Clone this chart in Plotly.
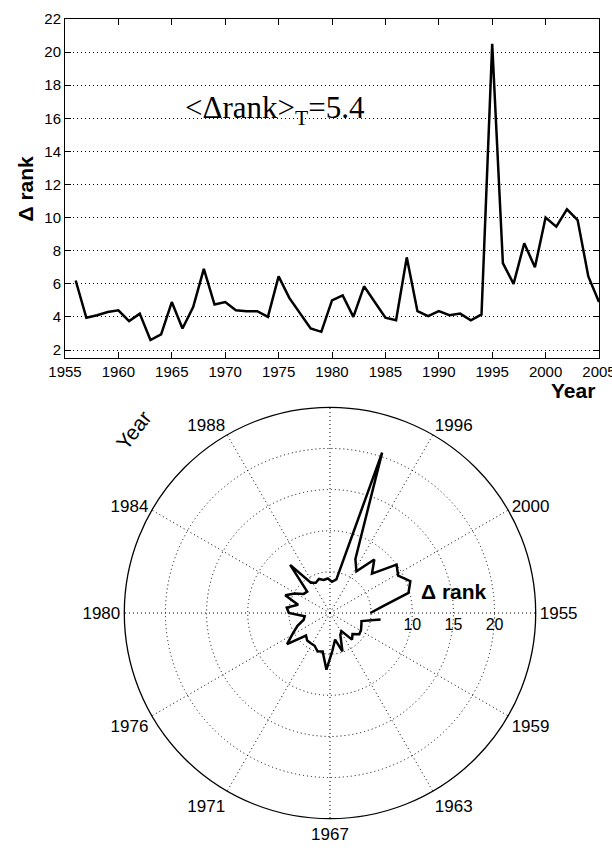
import plotly.graph_objects as go

# ---- data ----
years = list(range(1956, 2006))
delta_rank = [6.2, 3.95, 4.1, 4.3, 4.4, 3.75, 4.2, 2.6, 2.95, 4.9,
              3.3, 4.6, 6.9, 4.75, 4.9, 4.4, 4.35, 4.35, 4.0, 6.45,
              5.15, 4.25, 3.3, 3.1, 5.0, 5.3, 4.0, 5.85, 4.9, 3.95,
              3.8, 7.6, 4.35, 4.05, 4.35, 4.1, 4.2, 3.8, 4.15, 20.5,
              7.25, 6.0, 8.45, 7.0, 10.0, 9.45, 10.5, 9.85, 6.45, 4.9]
x_ticks = list(range(1955, 2006, 5))
y_ticks = list(range(2, 23, 2))
polar_tick_deg = list(range(0, 360, 30))
polar_tick_text = ['1955', '1959', '1963', '1967', '1971', '1976',
                   '1980', '1984', '1988', '', '1996', '2000']
radial_ticks = [5, 10, 15, 20]
radial_text = ['', '10', '15', '20']
year_start, year_span = 1955, 50
mean_text = '&lt;Δrank&gt;<sub>T</sub>=5.4'

theta = [(y - year_start) * 360.0 / year_span for y in years]

W, H = 612, 850
SANS = 'Liberation Sans, Arial, Helvetica, sans-serif'
SERIF = 'Liberation Serif, Times New Roman, serif'
DOTS = '1px,3px'

fig = go.Figure()
fig.add_trace(go.Scatter(x=years, y=delta_rank, mode='lines',
                         line=dict(color='black', width=2.5),
                         showlegend=False, hoverinfo='skip', cliponaxis=False))
fig.add_trace(go.Scatterpolar(r=delta_rank, theta=theta, mode='lines',
                              line=dict(color='black', width=2.5),
                              showlegend=False, hoverinfo='skip'))

fig.update_layout(
    width=W, height=H,
    margin=dict(l=0, r=0, t=0, b=0, autoexpand=False),
    paper_bgcolor='white', plot_bgcolor='white',
    font=dict(family=SANS, color='black', size=15),
    xaxis=dict(domain=[65 / W, 599 / W], range=[1955, 2005],
               automargin=False, ticklabeloverflow='allow',
               tickmode='array', tickvals=x_ticks,
               ticks='inside', ticklen=6, tickcolor='black',
               showline=True, linecolor='black', linewidth=1, mirror='ticks',
               showgrid=False, zeroline=False,
               tickfont=dict(size=15, family=SANS)),
    yaxis=dict(domain=[1 - 358.3 / H, 1 - 19 / H], range=[1.5, 22],
               automargin=False, ticklabeloverflow='allow',
               tickmode='array', tickvals=y_ticks,
               ticks='inside', ticklen=6, tickcolor='black',
               showline=True, linecolor='black', linewidth=1, mirror='ticks',
               showgrid=True, gridcolor='black', griddash=DOTS, gridwidth=1,
               zeroline=False,
               tickfont=dict(size=15, family=SANS)),
    polar=dict(
        domain=dict(x=[124.3 / W, 535.7 / W], y=[1 - 818.7 / H, 1 - 407.3 / H]),
        bgcolor='white',
        radialaxis=dict(range=[0, 25], tickmode='array', tickvals=radial_ticks,
                        ticktext=radial_text, angle=0, showline=False, ticks='',
                        gridcolor='black', griddash=DOTS, gridwidth=1,
                        tickfont=dict(size=16, family=SANS)),
        angularaxis=dict(direction='clockwise', rotation=0,
                         tickmode='array', tickvals=polar_tick_deg,
                         ticktext=polar_tick_text, ticks='',
                         showline=True, linecolor='black', linewidth=1.3,
                         gridcolor='black', griddash=DOTS, gridwidth=1,
                         tickfont=dict(size=17, family=SANS)),
    ),
)

fig.add_annotation(text='Δ rank', xref='paper', yref='paper',
                   x=25 / W, y=1 - 188.5 / H, textangle=-90,
                   showarrow=False, xanchor='center', yanchor='middle',
                   font=dict(size=21, family=SANS, weight='bold'))
fig.add_annotation(text='Year', xref='paper', yref='paper',
                   x=597 / W, y=1 - 391 / H, showarrow=False,
                   xanchor='right', yanchor='middle',
                   font=dict(size=21, family=SANS, weight='bold'))
fig.add_annotation(text=mean_text, xref='paper', yref='paper',
                   x=183 / W, y=1 - 110 / H, showarrow=False,
                   xanchor='left', yanchor='middle',
                   font=dict(size=31, family=SERIF))
fig.add_annotation(text='Year', xref='paper', yref='paper',
                   x=133 / W, y=1 - 430 / H, textangle=-52, showarrow=False,
                   xanchor='center', yanchor='middle',
                   font=dict(size=21, family=SANS))
fig.add_annotation(text='Δ rank', xref='paper', yref='paper',
                   x=419 / W, y=1 - 591 / H, showarrow=False,
                   xanchor='left', yanchor='middle',
                   font=dict(size=21, family=SANS, weight='bold'))

fig.write_html('out.html')
